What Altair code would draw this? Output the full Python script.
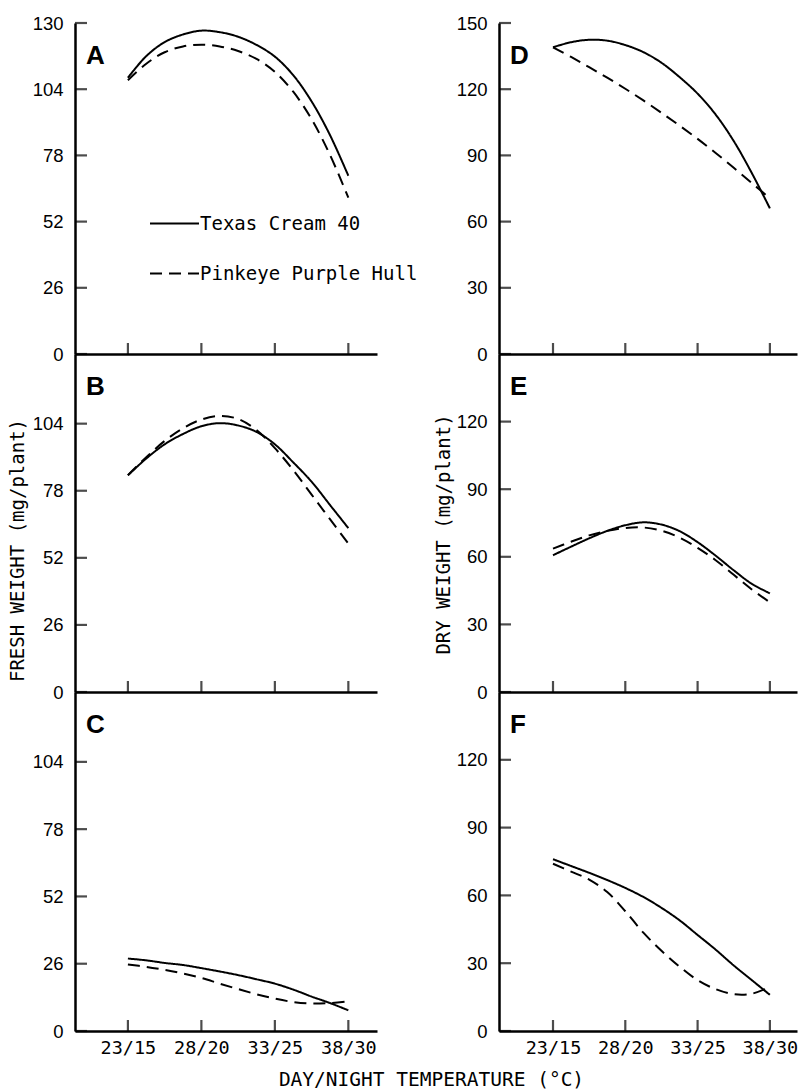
import json
import altair as alt
import pandas as pd

# ---------------- data ----------------
X_POS = [0, 0.25, 0.5, 0.75, 1.0, 1.25, 1.5, 1.75, 2.0, 2.25, 2.5, 2.75, 3.0]
TEMP_LABELS = ["23/15", "28/20", "33/25", "38/30"]
TEMP_TICKS = [0, 1, 2, 3]
SERIES = ["Texas Cream 40", "Pinkeye Purple Hull"]

A_TEXAS = [108.5, 117, 122.5, 125.5, 127, 126.4, 124.6, 121.4, 116.8, 109.5, 99.2, 86, 70]
A_PINK = [107.5, 114, 118.5, 120.8, 121.5, 120.8, 119.0, 115.9, 110.8, 103, 92.2, 78.2, 61.4]
B_TEXAS = [84, 90.5, 96, 100, 103, 104.2, 103.3, 100.8, 96, 89, 81.5, 72.5, 63.5]
B_PINK = [84, 91, 97.3, 102.2, 105.6, 107, 105.8, 101.5, 94.5, 86, 76.5, 67, 57.5]
C_TEXAS = [28, 27.3, 26.3, 25.5, 24.3, 23, 21.6, 20, 18.3, 16, 13.3, 10.8, 8]
C_PINK = [25.7, 24.8, 23.6, 22.2, 20.5, 18.3, 16.2, 14.2, 12.5, 11.2, 10.6, 10.8, 11.5]
D_TEXAS = [139, 141.3, 142.4, 142, 140, 136.8, 132, 125.5, 118, 108.5, 96.5, 82, 66]
D_PINK = [139, 134.6, 130, 125.2, 120.2, 114.9, 109.3, 103.5, 97.5, 91.1, 84.4, 77.5, 70.5]
E_TEXAS = [60.7, 64.5, 68.2, 71.5, 74, 75.3, 74.3, 71.4, 66.5, 60.5, 54, 48, 43.8]
E_PINK = [63.6, 66.7, 69.5, 71.5, 72.8, 73, 71.6, 68.5, 64, 58.5, 52, 45.5, 39.8]
F_TEXAS = [76, 73, 70, 66.8, 63.3, 59.3, 54.5, 49, 42.5, 36, 29, 22.5, 16]
F_PINK = [74, 70.5, 67, 61.5, 53, 43.5, 35.5, 28.5, 22.5, 18.5, 16.3, 16.5, 19.5]

FRESH_TICKS_TOP = [0, 26, 52, 78, 104, 130]
FRESH_TICKS = [0, 26, 52, 78, 104]
DRY_TICKS_TOP = [0, 30, 60, 90, 120, 150]
DRY_TICKS = [0, 30, 60, 90, 120]

Y_TITLE_FRESH = "FRESH WEIGHT (mg/plant)"
Y_TITLE_DRY = "DRY WEIGHT (mg/plant)"
X_TITLE = "DAY/NIGHT TEMPERATURE (°C)"

# ---------------- styling ----------------
MONO = "DejaVu Sans Mono"
SANS = "Liberation Sans"
LEFT_XDOM = [-0.72, 3.39]
RIGHT_XDOM = [-0.747, 3.375]
LEFT_W, RIGHT_W = 302, 298
ROW_H = [331, 338, 339]

dash_scale = alt.Scale(domain=SERIES, range=[[1, 0], [12, 7]])
label_expr = json.dumps(TEMP_LABELS) + "[datum.value]"


def panel(texas, pink, letter, ydom, yticks, xdom, width, height, bottom,
          ytitle=None, ytitle_x=0, ytitle_y=0, legend=False, xtitle=None):
    n = len(X_POS)
    df = pd.DataFrame({
        "x": X_POS + X_POS,
        "v": texas + pink,
        "series": [SERIES[0]] * n + [SERIES[1]] * n,
    })
    xscale = alt.Scale(domain=xdom, nice=False, zero=False)
    yscale = alt.Scale(domain=ydom, nice=False, zero=False)

    xaxis_kw = dict(values=TEMP_TICKS, ticks=False, grid=False, domainWidth=2.5,
                    domainColor="black", labels=bottom, labelExpr=label_expr,
                    labelFont=MONO, labelFontSize=18.5, labelColor="black",
                    labelPadding=7, labelFlush=False, labelOverlap=False)
    if xtitle:
        xaxis_kw.update(title=xtitle, titleFont=MONO, titleFontSize=19.5,
                        titleFontWeight="normal", titleColor="black",
                        titleX=356, titleY=54, titleAlign="center",
                        titleBaseline="alphabetic")
    else:
        xaxis_kw.update(title=None)

    yaxis_kw = dict(values=yticks, ticks=False, grid=False, domainWidth=2.5,
                    domainColor="black", labelFont=SANS, labelFontSize=18.5,
                    labelColor="black", labelPadding=12, labelFlush=False,
                    labelOverlap=False)
    if ytitle:
        yaxis_kw.update(title=ytitle, titleFont=MONO, titleFontSize=19,
                        titleFontWeight="normal", titleColor="black",
                        titleX=ytitle_x, titleY=ytitle_y, titleAlign="center",
                        titleBaseline="middle")
    else:
        yaxis_kw.update(title=None)

    if legend:
        leg = alt.Legend(orient="none", legendX=74, legendY=175, title=None,
                         symbolType="stroke", symbolSize=2401, symbolStrokeWidth=2,
                         symbolStrokeColor="black", labelFont=MONO, labelFontSize=19,
                         labelColor="black", labelOffset=0, padding=0, rowPadding=14,
                         symbolOffset=0, labelLimit=400)
        dash = alt.StrokeDash("series:N", scale=dash_scale, legend=leg)
    else:
        dash = alt.StrokeDash("series:N", scale=dash_scale, legend=None)

    lines = alt.Chart(df).mark_line(color="black", strokeWidth=2,
                                    interpolate="catmull-rom").encode(
        x=alt.X("x:Q", scale=xscale, axis=alt.Axis(**xaxis_kw)),
        y=alt.Y("v:Q", scale=yscale, axis=alt.Axis(**yaxis_kw)),
        strokeDash=dash,
    )

    ytk = alt.Chart(pd.DataFrame({"x": [xdom[0]] * len(yticks), "v": yticks})).mark_tick(
        orient="horizontal", size=12, thickness=2.2, xOffset=6, color="black"
    ).encode(
        x=alt.X("x:Q", scale=xscale),
        y=alt.Y("v:Q", scale=yscale),
    )
    xtk = alt.Chart(pd.DataFrame({"x": TEMP_TICKS, "v": [0] * len(TEMP_TICKS)})).mark_tick(
        orient="vertical", size=11, thickness=2.2, yOffset=-5.5, color="black"
    ).encode(
        x=alt.X("x:Q", scale=xscale),
        y=alt.Y("v:Q", scale=yscale),
    )
    lab = alt.Chart(pd.DataFrame({"label": [letter]})).mark_text(
        font=SANS, fontSize=26, fontWeight="bold", align="left",
        baseline="alphabetic", color="black"
    ).encode(text="label:N", x=alt.value(11), y=alt.value(41))

    return alt.layer(lines, ytk, xtk, lab).properties(width=width, height=height)


pA = panel(A_TEXAS, A_PINK, "A", [0, 130], FRESH_TICKS_TOP, LEFT_XDOM, LEFT_W, ROW_H[0],
           False, legend=True)
pD = panel(D_TEXAS, D_PINK, "D", [0, 150], DRY_TICKS_TOP, RIGHT_XDOM, RIGHT_W, ROW_H[0],
           False)
pB = panel(B_TEXAS, B_PINK, "B", [0, 131], FRESH_TICKS, LEFT_XDOM, LEFT_W, ROW_H[1],
           False, ytitle=Y_TITLE_FRESH, ytitle_x=-58, ytitle_y=196)
pE = panel(E_TEXAS, E_PINK, "E", [0, 150], DRY_TICKS, RIGHT_XDOM, RIGHT_W, ROW_H[1],
           False, ytitle=Y_TITLE_DRY, ytitle_x=-56, ytitle_y=180)
pC = panel(C_TEXAS, C_PINK, "C", [0, 131], FRESH_TICKS, LEFT_XDOM, LEFT_W, ROW_H[2],
           True, xtitle=X_TITLE)
pF = panel(F_TEXAS, F_PINK, "F", [0, 150], DRY_TICKS, RIGHT_XDOM, RIGHT_W, ROW_H[2],
           True)

chart = alt.concat(
    pA, pD, pB, pE, pC, pF, columns=2,
    spacing={"row": 0, "column": 122}, bounds="flush",
).properties(
    padding={"left": 8, "top": 14, "right": 0, "bottom": 0},
    background="white",
).configure_view(stroke=None)

chart.save("out.html", embed_options={"renderer": "svg", "actions": False})
